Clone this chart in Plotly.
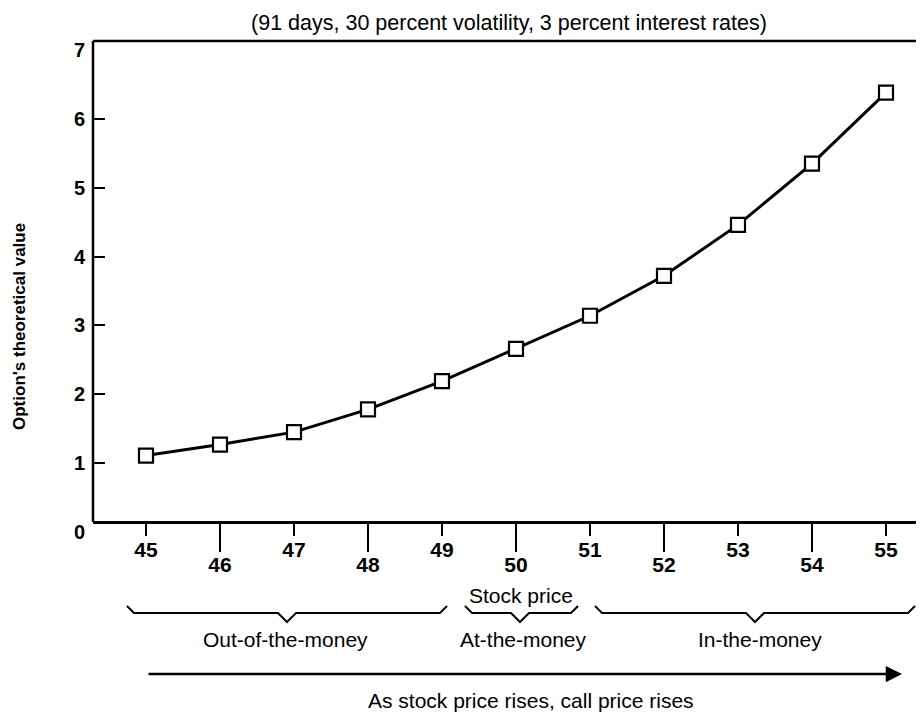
import plotly.graph_objects as go

# ---------------- data ----------------
stock_prices = [45, 46, 47, 48, 49, 50, 51, 52, 53, 54, 55]
option_values = [1.11, 1.27, 1.45, 1.78, 2.19, 2.66, 3.14, 3.72, 4.46, 5.35, 6.38]
y_marked_ticks = [1, 2, 3, 4, 5, 6]
y_unmarked_ticks = [0, 7]
odd_ticks = stock_prices[0::2]
even_ticks = stock_prices[1::2]
title_text = "(91 days, 30 percent volatility, 3 percent interest rates)"
y_title = "Option's theoretical value"
x_title = "Stock price"
regions = ["Out-of-the-money", "At-the-money", "In-the-money"]
arrow_text = "As stock price rises, call price rises"

# ---------------- layout geometry (screen pixels) ----------------
OFF = 8                               # page body margin
W, H = 924 - OFF, 715 - OFF
PLOT_L, PLOT_T, PLOT_B = 93, 41, 532  # screen px
L, T = PLOT_L - OFF, PLOT_T - OFF
B = H - (PLOT_B - OFF)
R = 0
PW, PH = W - L - R, H - T - B
X_RANGE = [45 - (146 - PLOT_L) / 74.0, 45 + (924 - 146) / 74.0]
Y_RANGE = [0, 7.13]
AXIS_Y_PX = 522                       # drawn bottom axis line (screen)


def fx(px):
    return (px - PLOT_L) / PW


def fy(py):
    return (PLOT_B - py) / PH


FONT = "Liberation Sans, Arial, Helvetica, sans-serif"
LW = 2.5

fig = go.Figure()
fig.add_trace(go.Scatter(
    x=stock_prices, y=option_values, mode="lines+markers",
    line=dict(color="black", width=3),
    marker=dict(symbol="square", size=14, color="white",
                line=dict(color="black", width=2.2)),
    showlegend=False, hoverinfo="x+y",
))
# empty helper traces so that the auxiliary axes get drawn
fig.add_trace(go.Scatter(x=[None], y=[None], xaxis="x2", yaxis="y",
                         mode="markers", showlegend=False, hoverinfo="skip"))
fig.add_trace(go.Scatter(x=[None], y=[None], xaxis="x", yaxis="y2",
                         mode="markers", showlegend=False, hoverinfo="skip"))

# frame lines (left and top) and braces under the axis
shapes = [
    dict(type="line", xref="paper", yref="paper", x0=0, x1=0,
         y0=fy(AXIS_Y_PX), y1=1, line=dict(color="black", width=LW)),
    dict(type="line", xref="paper", yref="paper", x0=0, x1=1,
         y0=1, y1=1, line=dict(color="black", width=LW)),
]
brace_spans = [(127, 447, 287), (465, 578, 520), (595, 915, 755)]
for x0, x1, xm in brace_spans:
    ytip, ybar, ydip = 606, 613, 622
    pts = [(x0, ytip), (x0 + 7, ybar), (xm - 9, ybar), (xm, ydip),
           (xm + 9, ybar), (x1 - 7, ybar), (x1, ytip)]
    path = "M " + " L ".join(f"{fx(a):.5f},{fy(b):.5f}" for a, b in pts)
    shapes.append(dict(type="path", path=path, xref="paper", yref="paper",
                       line=dict(color="black", width=2)))


def label(text, sx, sy, size, bold=False, angle=0):
    font = dict(family=FONT, size=size, color="black")
    if bold:
        font["weight"] = "bold"
    return dict(text=text, x=fx(sx), y=fy(sy), xref="paper", yref="paper",
                xanchor="center", yanchor="middle", textangle=angle,
                showarrow=False, font=font)


annotations = [
    label(y_title, 20, 327, 17, bold=True, angle=-90),
    label(x_title, 521, 595, 21),
    label(regions[0], 285, 639, 21),
    label(regions[1], 523, 639, 21),
    label(regions[2], 760, 639, 21),
    label(arrow_text, 531, 700, 21),
    dict(text="", x=fx(902), y=fy(674), xref="paper", yref="paper",
         ax=-(902 - 147), ay=0, axref="pixel", ayref="pixel",
         showarrow=True, arrowhead=2, arrowsize=1.3, arrowwidth=2.5,
         arrowcolor="black"),
]

tick_font_x = dict(family=FONT, size=21, color="black", weight="bold")
tick_font_y = dict(family=FONT, size=20, color="black", weight="bold")

fig.update_layout(
    width=W, height=H,
    margin=dict(l=L, r=R, t=T, b=B, pad=0, autoexpand=False),
    paper_bgcolor="white", plot_bgcolor="white",
    showlegend=False,
    title=dict(text=title_text, x=(509 - OFF) / W, y=1 - (22 - OFF) / H,
               xref="container", yref="container", xanchor="center",
               yanchor="middle",
               font=dict(family=FONT, size=21.5, color="black")),
    xaxis=dict(range=X_RANGE, anchor="free", position=fy(AXIS_Y_PX),
               showline=True, linecolor="black", linewidth=LW,
               showgrid=False, zeroline=False,
               tickmode="array", tickvals=odd_ticks,
               ticktext=[str(v) for v in odd_ticks],
               ticks="outside", ticklen=12, tickwidth=2, tickcolor="black",
               ticklabelstandoff=-4, tickfont=tick_font_x),
    xaxis2=dict(range=X_RANGE, overlaying="x", anchor="free",
                position=fy(AXIS_Y_PX), side="bottom",
                showline=False, showgrid=False, zeroline=False,
                tickmode="array", tickvals=even_ticks,
                ticktext=[str(v) for v in even_ticks],
                ticks="outside", ticklen=29, tickwidth=2, tickcolor="black",
                ticklabelstandoff=-5, tickfont=tick_font_x),
    yaxis=dict(range=Y_RANGE, anchor="x", showline=False,
               showgrid=False, zeroline=False, tickmode="array",
               tickvals=y_marked_ticks,
               ticktext=[str(v) for v in y_marked_ticks],
               ticks="inside", ticklen=12, tickwidth=2, tickcolor="black",
               ticklabelstandoff=7, tickfont=tick_font_y),
    yaxis2=dict(range=Y_RANGE, overlaying="y", anchor="x", side="left",
                showline=False, showgrid=False, zeroline=False,
                tickmode="array", tickvals=y_unmarked_ticks,
                ticktext=[str(v) for v in y_unmarked_ticks],
                ticks="", ticklabelstandoff=7, tickfont=tick_font_y),
    shapes=shapes,
    annotations=annotations,
)

fig.write_html("out.html")
